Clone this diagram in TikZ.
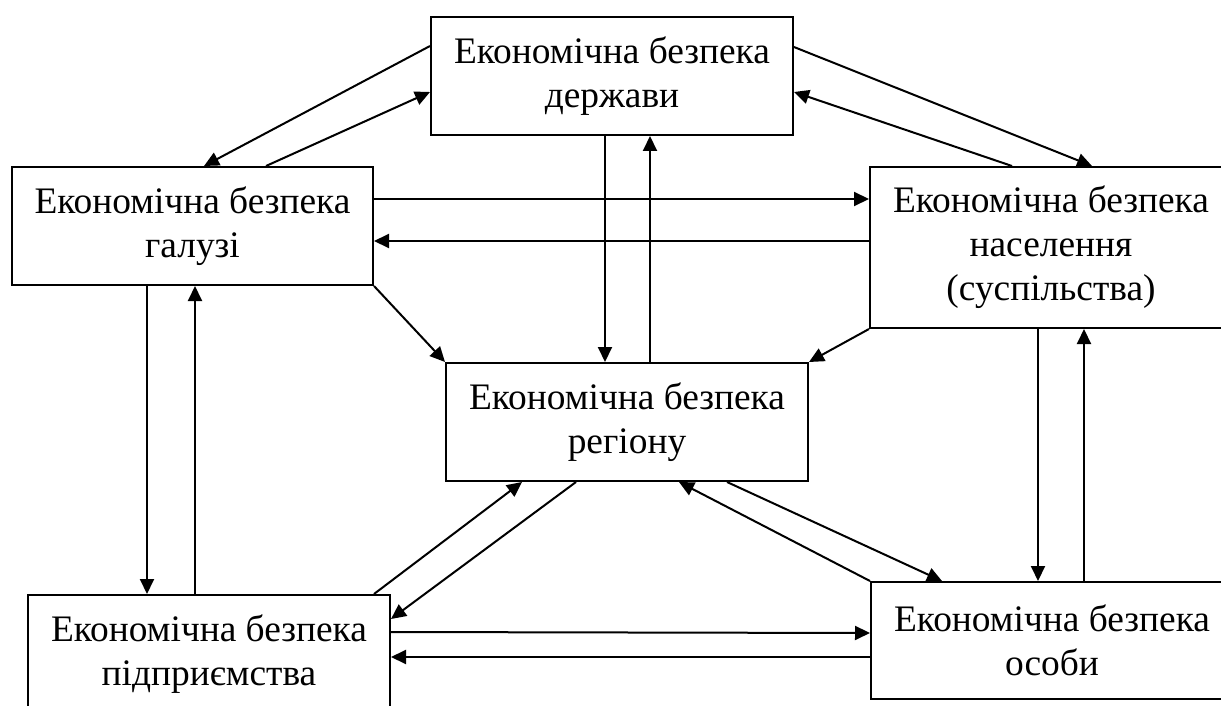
\documentclass[tikz,border=0pt]{standalone}
\usepackage{fontspec}
\setmainfont{Liberation Serif}
\usetikzlibrary{arrows.meta,calc}
\begin{document}
\begin{tikzpicture}[x=0.5pt,y=-0.5pt,
  box/.style={draw,line width=1pt,inner sep=0pt,align=center,
    font=\fontsize{18.7}{22}\selectfont,minimum width=181pt,minimum height=59pt},
  link/.style={line width=1pt,-{Triangle[length=7.5pt,width=7pt]}}]
\useasboundingbox (0,0) rectangle (1221,706);
\clip (0,0) rectangle (1221,706);
\node[box] (A) at (612,76) {Економічна безпека\\держави};
\node[box,minimum width=180.5pt] (B) at (192.5,226) {Економічна безпека\\галузі};
\node[box,minimum height=80.5pt] (C) at (1051,247.5) {Економічна безпека\\населення\\(суспільства)};
\node[box] (D) at (627,422) {Економічна безпека\\регіону};
\node[box] (E) at (209,654) {Економічна безпека\\підприємства};
\node[box,minimum height=58.5pt] (F) at (1052,640.5) {Економічна безпека\\особи};
% A <-> B
\draw[link] ($(A.north west)+(0,30)$) -- ($(B.north west)+(193,0)$);
\draw[link] ($(B.north west)+(255,0)$) -- ($(A.north west)+(0,76)$);
% A <-> C
\draw[link] ($(A.north east)+(0,31)$) -- ($(C.north west)+(223,0)$);
\draw[link] ($(C.north west)+(143,0)$) -- ($(A.north east)+(0,76)$);
% A <-> D
\draw[link] ($(A.south west)+(175,0)$) -- ($(D.north west)+(160,0)$);
\draw[link] ($(D.north west)+(205,0)$) -- ($(A.south west)+(220,0)$);
% B <-> C
\draw[link] ($(B.north east)+(0,33)$) -- ($(C.north west)+(0,33)$);
\draw[link] ($(C.north west)+(0,75)$) -- ($(B.north east)+(0,75)$);
% B, C -> D
\draw[link] (B.south east) -- (D.north west);
\draw[link] (C.south west) -- (D.north east);
% B <-> E
\draw[link] ($(B.south west)+(136,0)$) -- ($(E.north west)+(120,0)$);
\draw[link] ($(E.north west)+(168,0)$) -- ($(B.south west)+(184,0)$);
% C <-> F
\draw[link] ($(C.south west)+(169,0)$) -- ($(F.north west)+(168,0)$);
\draw[link] ($(F.north west)+(214,0)$) -- ($(C.south west)+(215,0)$);
% E <-> D
\draw[link] ($(E.north east)+(-17,0)$) -- ($(D.south west)+(77,0)$);
\draw[link] ($(D.south west)+(131,0)$) -- ($(E.north east)+(0,25)$);
% F <-> D
\draw[link] (F.north west) -- ($(D.south west)+(234,0)$);
\draw[link] ($(D.south west)+(282,0)$) -- ($(F.north west)+(72,0)$);
% E <-> F
\draw[link] ($(E.north east)+(0,38)$) -- ($(F.north west)+(0,52)$);
\draw[link] ($(F.north west)+(0,76)$) -- ($(E.north east)+(0,63)$);
\end{tikzpicture}
\end{document}
